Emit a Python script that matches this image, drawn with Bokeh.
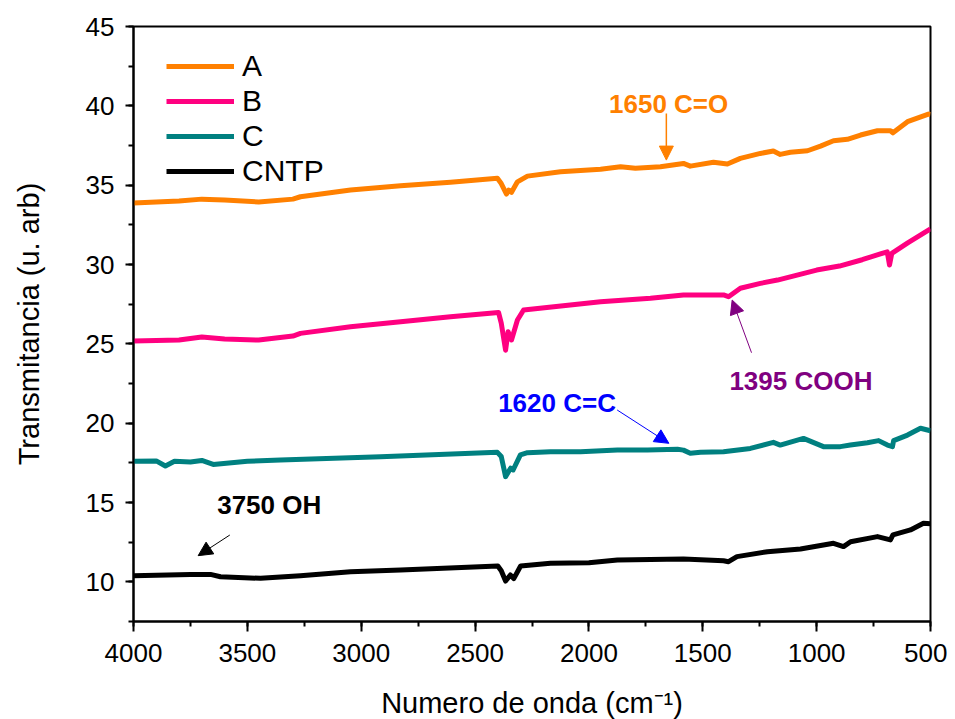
from bokeh.plotting import figure
from bokeh.models import (Range1d, SingleIntervalTicker, Label, Arrow, NormalHead,
                          Legend, LegendItem)
from bokeh.embed import file_html
from bokeh.resources import INLINE

# ---------------- data ----------------
wn_a = [4000, 3800, 3700, 3600, 3450, 3300, 3267, 3047, 2827, 2608, 2402, 2385, 2362, 2352,
        2340, 2314, 2270, 2125, 1949, 1861, 1796, 1686, 1585, 1555, 1453, 1392, 1335, 1247,
        1190, 1160, 1115, 1040, 983, 926, 865, 807, 733, 676, 665, 601, 509, 500]
val_a = [33.87, 34.0, 34.12, 34.06, 33.94, 34.12, 34.27, 34.69, 34.96, 35.18, 35.43, 35.1,
         34.44, 34.69, 34.55, 35.21, 35.57, 35.85, 36.0, 36.16, 36.07, 36.16, 36.37, 36.2,
         36.44, 36.33, 36.69, 37.0, 37.15, 36.94, 37.07, 37.17, 37.46, 37.8, 37.89, 38.16,
         38.43, 38.43, 38.3, 39.0, 39.48, 39.45]

wn_b = [4000, 3800, 3700, 3600, 3450, 3300, 3267, 3047, 2827, 2608, 2397, 2385, 2366, 2355,
        2340, 2314, 2287, 1949, 1730, 1585, 1409, 1387, 1335, 1247, 1172, 1000, 900, 800,
        720, 690, 680, 670, 600, 500]
val_b = [25.18, 25.24, 25.43, 25.3, 25.24, 25.49, 25.66, 26.08, 26.39, 26.71, 26.98, 26.3,
         24.6, 25.76, 25.24, 26.5, 27.13, 27.65, 27.87, 28.08, 28.08, 27.97, 28.5, 28.81,
         29.02, 29.65, 29.9, 30.3, 30.67, 30.8, 29.97, 30.7, 31.36, 32.24]

wn_c = [4000, 3900, 3860, 3820, 3750, 3700, 3650, 3500, 3355, 2915, 2402, 2385, 2366, 2344,
        2333, 2301, 2270, 2169, 2037, 1875, 1743, 1611, 1585, 1555, 1510, 1409, 1291, 1190,
        1160, 1058, 970, 896, 852, 777, 728, 689, 667, 662, 601, 544, 500]
val_c = [17.6, 17.62, 17.3, 17.6, 17.55, 17.65, 17.4, 17.6, 17.68, 17.89, 18.16, 17.9, 16.63,
         17.16, 17.05, 18.0, 18.14, 18.2, 18.2, 18.31, 18.31, 18.35, 18.3, 18.1, 18.17,
         18.2, 18.41, 18.79, 18.62, 19.04, 18.52, 18.52, 18.62, 18.77, 18.9, 18.62, 18.52,
         18.9, 19.25, 19.68, 19.52]

wn_d = [4000, 3750, 3662, 3618, 3442, 3267, 3047, 2827, 2400, 2385, 2366, 2345, 2330, 2300,
        2169, 2000, 1875, 1585, 1409, 1387, 1350, 1216, 1071, 926, 882, 851, 733, 676, 665,
        588, 531, 500]
val_d = [10.39, 10.47, 10.47, 10.32, 10.22, 10.39, 10.64, 10.75, 11.0, 10.7, 10.05, 10.43,
         10.2, 11.0, 11.17, 11.2, 11.38, 11.44, 11.33, 11.27, 11.59, 11.9, 12.07, 12.43,
         12.22, 12.53, 12.85, 12.64, 12.96, 13.27, 13.69, 13.66]

series_names = ["A", "B", "C", "CNTP"]
series_colors = ["#FF8000", "#FF0080", "#008080", "#000000"]

x_ticks_step = 500
y_ticks_step = 5

FONT = "Liberation Sans"

p = figure(frame_width=797, frame_height=595,
           x_range=Range1d(4000, 500), y_range=Range1d(7.5, 45),
           output_backend="svg", toolbar_location=None,
           min_border_left=133, min_border_right=17, min_border_top=26,
           min_border_bottom=93)
p.xgrid.visible = False
p.ygrid.visible = False
p.outline_line_color = "black"
p.outline_line_width = 2
p.background_fill_color = "white"
p.border_fill_color = "white"

p.xaxis.ticker = SingleIntervalTicker(interval=x_ticks_step, num_minor_ticks=2)
p.yaxis.ticker = SingleIntervalTicker(interval=y_ticks_step, num_minor_ticks=2)
for ax in (p.xaxis[0], p.yaxis[0]):
    ax.axis_line_width = 2
    ax.major_tick_line_width = 2
    ax.minor_tick_line_width = 2
    ax.major_tick_in = 0
    ax.minor_tick_in = 0
    ax.major_label_text_font = FONT
    ax.major_label_text_font_size = "26px"
    ax.major_label_text_color = "black"
    ax.axis_label_text_font = FONT
    ax.axis_label_text_font_size = "29px"
    ax.axis_label_text_font_style = "normal"
    ax.axis_label_text_color = "black"
p.xaxis.major_tick_out = 10
p.xaxis.minor_tick_out = 5
p.yaxis.major_tick_out = 8
p.yaxis.minor_tick_out = 5
p.xaxis.major_label_standoff = 12
p.yaxis.major_label_standoff = 11
p.xaxis.axis_label = "Numero de onda (cm\u207B\u00B9)"
p.yaxis.axis_label = "Transmitancia (u. arb)"
p.xaxis.axis_label_standoff = 22
p.yaxis.axis_label_standoff = 38

renderers = []
for wn, val, c in zip([wn_a, wn_b, wn_c, wn_d], [val_a, val_b, val_c, val_d], series_colors):
    r = p.line(wn, val, line_width=5, line_color=c, line_join="round")
    renderers.append(r)

legend = Legend(items=[LegendItem(label=n, renderers=[r]) for n, r in zip(series_names, renderers)],
                location=(33, 433))
legend.border_line_color = None
legend.background_fill_alpha = 0
legend.label_text_font = FONT
legend.label_text_font_size = "30px"
legend.label_text_color = "black"
legend.glyph_width = 68
legend.glyph_height = 30
legend.label_height = 30
legend.spacing = 1
legend.padding = 10
legend.margin = 0
legend.label_standoff = 8
p.add_layout(legend)

# ---------------- annotations ----------------
def add_note(text, x, y, color):
    p.add_layout(Label(x=x, y=y, text=text, text_color=color, text_font=FONT,
                       text_font_size="26px", text_font_style="bold",
                       text_align="center", text_baseline="middle"))

def add_arrow(x0, y0, x1, y1, color, width):
    p.add_layout(Arrow(x_start=x0, y_start=y0, x_end=x1, y_end=y1, line_color=color,
                       line_width=width,
                       end=NormalHead(size=14, fill_color=color, line_color=color, line_width=1)))

add_note("1650 C=O", 1650, 40.14, "#FF8000")
add_arrow(1660, 39.52, 1660, 36.58, "#FF8000", 1.5)

add_note("1620 C=C", 2140, 21.25, "#0000FF")
add_arrow(1876, 20.83, 1649, 18.73, "#0000FF", 1)

add_note("1395 COOH", 1069, 22.64, "#800080")
add_arrow(1286, 24.44, 1371, 27.76, "#800080", 1)

add_note("3750 OH", 3404, 14.84, "#000000")
add_arrow(3577, 12.95, 3716, 11.65, "#000000", 1)

open("out.html", "w").write(file_html(p, INLINE))
